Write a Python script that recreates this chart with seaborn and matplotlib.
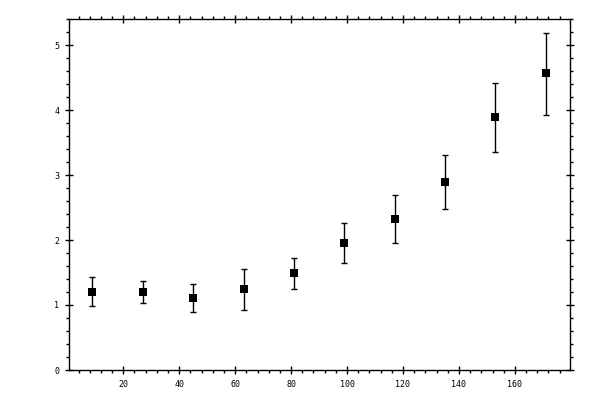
import numpy as np
import pandas as pd
import seaborn as sb
import matplotlib
matplotlib.use('Agg')
import matplotlib.pyplot as plt
from matplotlib.ticker import MultipleLocator

# data
x_vals = [9, 27, 45, 63, 81, 99, 117, 135, 153, 171]
y_vals = [1.20, 1.20, 1.11, 1.24, 1.50, 1.96, 2.33, 2.89, 3.90, 4.57]
y_low = [0.985, 1.03, 0.89, 0.92, 1.25, 1.65, 1.96, 2.47, 3.35, 3.93]
y_high = [1.435, 1.37, 1.33, 1.55, 1.73, 2.255, 2.70, 3.31, 4.42, 5.19]

df = pd.DataFrame({'x': x_vals, 'y': y_vals, 'lo': y_low, 'hi': y_high})

sb.set_style('ticks')
plt.rcParams['font.family'] = ['DejaVu Sans Mono', 'DejaVu Sans']

fig = plt.figure(figsize=(6, 4), dpi=100)
ax = fig.add_axes([0.115, 0.075, 0.835, 0.8775])

# error bars
ax.errorbar(df['x'], df['y'], yerr=[df['y'] - df['lo'], df['hi'] - df['y']],
            fmt='none', ecolor='black', elinewidth=1.0, capsize=2.2, capthick=1.0)

# points
sb.scatterplot(data=df, x='x', y='y', marker='s', color='black', s=26,
               edgecolor='black', linewidth=0, ax=ax, zorder=3)

ax.set_xlim(0.6, 179.7)
ax.set_ylim(0, 5.4)
ax.xaxis.set_major_locator(MultipleLocator(20))
ax.xaxis.set_minor_locator(MultipleLocator(4))
ax.yaxis.set_major_locator(MultipleLocator(1))
ax.yaxis.set_minor_locator(MultipleLocator(0.2))

ax.tick_params(which='both', top=True, right=True, labeltop=False, labelright=False,
               color='black', labelcolor='black', width=1.0)
ax.tick_params(which='major', direction='inout', length=6, labelsize=6, pad=4)
ax.tick_params(which='minor', direction='out', length=2.5)

for s in ax.spines.values():
    s.set_color('black')
    s.set_linewidth(1.0)

ax.set_xlabel('')
ax.set_ylabel('')

fig.savefig('out.png', dpi=100)
